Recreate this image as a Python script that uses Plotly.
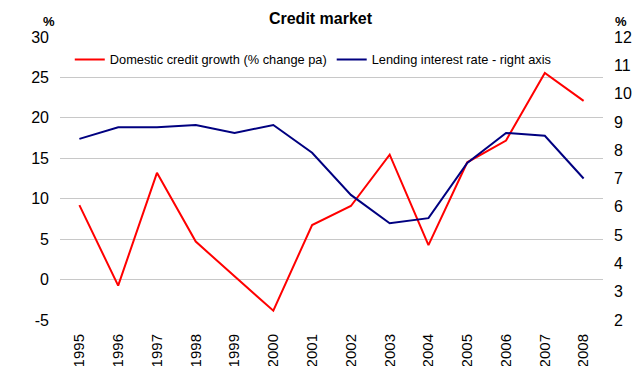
import plotly.graph_objects as go

years = [str(y) for y in range(1995, 2009)]
credit_growth = [9.2, -0.75, 13.2, 4.7, 0.4, -3.85, 6.75, 9.1, 15.45, 4.26, 14.5, 17.2, 25.55, 22.1]
lending_rate = [8.40, 8.81, 8.81, 8.89, 8.61, 8.89, 7.91, 6.42, 5.42, 5.60, 7.55, 8.61, 8.51, 7.0]
left_ticks = [-5, 0, 5, 10, 15, 20, 25, 30]
left_tick_labels = ["-5", "0", "5", "10", "15", "20", "25", "30"]

FONT = "Liberation Sans, Arial, sans-serif"

fig = go.Figure()
fig.add_trace(go.Scatter(x=years, y=credit_growth, mode="lines",
                         name="Domestic credit growth (% change pa)",
                         line=dict(color="#ff0000", width=2)))
fig.add_trace(go.Scatter(x=years, y=lending_rate, mode="lines",
                         name="Lending interest rate - right axis",
                         line=dict(color="#000080", width=2), yaxis="y2"))

fig.update_layout(
    width=641, height=366,
    margin=dict(l=60, r=38, t=37, b=46),
    paper_bgcolor="white", plot_bgcolor="white",
    font=dict(family=FONT, color="#000000"),
    title=dict(text="<b>Credit market</b>", x=0.5, xanchor="center", y=0.95, yanchor="middle",
               font=dict(size=16, family=FONT)),
    showlegend=True,
    legend=dict(orientation="h", x=0.018, y=0.92, xanchor="left", yanchor="middle",
                font=dict(size=12.8, family=FONT), bgcolor="rgba(0,0,0,0)",
                itemwidth=30, tracegroupgap=0),
    xaxis=dict(type="category", range=[-0.5, 13.5], tickangle=-90, tickfont=dict(size=15),
               showgrid=False, showline=False, ticks="", zeroline=False,
               ticklabelstandoff=10, automargin=False),
    yaxis=dict(range=[-5, 30], tickvals=left_ticks, ticktext=left_tick_labels,
               tickfont=dict(size=16), automargin=False,
               showgrid=True, gridcolor="#c8c8c8", gridwidth=1, zeroline=False,
               showline=False, ticks="", ticklabelstandoff=10),
    yaxis2=dict(range=[2, 12], dtick=1, overlaying="y", side="right", automargin=False,
                tickfont=dict(size=16), showgrid=False, zeroline=False,
                showline=False, ticks="", ticklabelstandoff=10),
    annotations=[
        dict(text="<b>%</b>", xref="paper", yref="paper", x=-0.02, y=1.055, xanchor="center",
             yanchor="middle", showarrow=False, font=dict(size=13, family=FONT)),
        dict(text="<b>%</b>", xref="paper", yref="paper", x=1.033, y=1.055, xanchor="center",
             yanchor="middle", showarrow=False, font=dict(size=13, family=FONT)),
    ],
)

fig.write_html("out.html")
